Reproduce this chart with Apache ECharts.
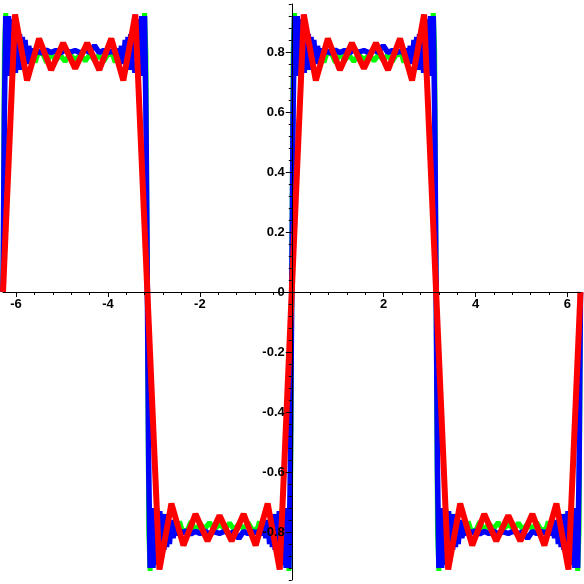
<!DOCTYPE html>
<html><head><meta charset="utf-8">
<script src="https://cdn.jsdelivr.net/npm/echarts@6.0.0/dist/echarts.min.js"></script>
<style>html,body{margin:0;padding:0;background:#fff}#c{width:584px;height:584px}</style>
</head><body><div id="c"></div>
<script>
// Half-period start positions and whether the plateau is the upper or lower one
const plateauStart = [-6.2832, -3.1416, 0, 3.1416];
const plateauSide = ['top', 'bottom', 'top', 'bottom'];

// Red curve: vertices within one half-period (offset from its start)
const redOffsets = [0, 0.2618, 0.5236, 0.7854, 1.0472, 1.309, 1.5708, 1.8326, 2.0944, 2.3562, 2.618, 2.8798, 3.1416];
const redTop = [0, 0.925, 0.705, 0.845, 0.74, 0.83, 0.745, 0.83, 0.74, 0.845, 0.705, 0.925, 0];
const redBottom = [0, -0.925, -0.705, -0.845, -0.74, -0.83, -0.745, -0.83, -0.74, -0.845, -0.705, -0.925, 0];

// Blue and green curves: denser vertices within one half-period
const fineOffsets = [0, 0.03, 0.06, 0.09, 0.12, 0.15, 0.18, 0.21, 0.24, 0.27, 0.30, 0.33, 0.36, 0.39, 0.42, 0.45, 0.48, 0.52, 0.56, 0.60, 0.65, 0.70, 0.75,
  0.85, 0.95, 1.05, 1.15, 1.25, 1.35, 1.45, 1.57, 1.69, 1.79, 1.89, 1.99, 2.09, 2.19, 2.29,
  2.39, 2.44, 2.49, 2.54, 2.58, 2.62, 2.66, 2.69, 2.72, 2.75, 2.78, 2.81, 2.84, 2.87, 2.90, 2.93, 2.96, 2.99, 3.02, 3.05, 3.08, 3.11, 3.1416];

const blueTop = [0, 0.60, 0.92, 0.74, 0.92, 0.72, 0.91, 0.73, 0.90, 0.73, 0.88, 0.74, 0.86, 0.74, 0.85, 0.75, 0.84, 0.76, 0.82, 0.78, 0.81, 0.795, 0.803,
  0.797, 0.806, 0.798, 0.805, 0.797, 0.807, 0.799, 0.805, 0.797, 0.806, 0.799, 0.822, 0.798, 0.805, 0.799,
  0.803, 0.795, 0.81, 0.78, 0.82, 0.76, 0.84, 0.75, 0.85, 0.74, 0.86, 0.74, 0.88, 0.73, 0.90, 0.73, 0.91, 0.72, 0.92, 0.74, 0.92, 0.60, 0];
const blueBottom = [0, -0.60, -0.92, -0.74, -0.92, -0.72, -0.91, -0.73, -0.90, -0.73, -0.88, -0.74, -0.86, -0.74, -0.85, -0.75, -0.84, -0.76, -0.82, -0.78, -0.81, -0.795, -0.803,
  -0.797, -0.806, -0.798, -0.805, -0.797, -0.807, -0.799, -0.805, -0.797, -0.806, -0.799, -0.822, -0.798, -0.805, -0.799,
  -0.803, -0.795, -0.81, -0.78, -0.82, -0.76, -0.84, -0.75, -0.85, -0.74, -0.86, -0.74, -0.88, -0.73, -0.90, -0.73, -0.91, -0.72, -0.92, -0.74, -0.92, -0.60, 0];

const greenTop = [0, 0.80, 0.93, 0.72, 0.92, 0.73, 0.88, 0.72, 0.85, 0.75, 0.83, 0.74, 0.82, 0.76, 0.81, 0.755, 0.80, 0.765, 0.795, 0.77, 0.80, 0.765, 0.79,
  0.80, 0.765, 0.795, 0.772, 0.79, 0.768, 0.792, 0.775, 0.79, 0.77, 0.793, 0.772, 0.79, 0.768, 0.795,
  0.79, 0.765, 0.80, 0.77, 0.795, 0.765, 0.80, 0.755, 0.81, 0.76, 0.82, 0.74, 0.83, 0.75, 0.85, 0.72, 0.88, 0.73, 0.92, 0.72, 0.93, 0.80, 0];
const greenBottom = [0, -0.80, -0.93, -0.72, -0.92, -0.73, -0.88, -0.72, -0.85, -0.75, -0.83, -0.74, -0.82, -0.76, -0.81, -0.755, -0.80, -0.765, -0.795, -0.77, -0.80, -0.765, -0.79,
  -0.80, -0.765, -0.795, -0.772, -0.79, -0.768, -0.792, -0.775, -0.79, -0.77, -0.793, -0.772, -0.79, -0.768, -0.795,
  -0.79, -0.765, -0.80, -0.77, -0.795, -0.765, -0.80, -0.755, -0.81, -0.76, -0.82, -0.74, -0.83, -0.75, -0.85, -0.72, -0.88, -0.73, -0.92, -0.72, -0.93, -0.80, 0];

// Tick values
const xMajorTicks = [-6, -4, -2, 2, 4, 6];
const xMinorTicks = [-6, -5.6, -5.2, -4.8, -4.4, -4, -3.6, -3.2, -2.8, -2.4, -2, -1.6, -1.2, -0.8, -0.4, 0, 0.4, 0.8, 1.2, 1.6, 2, 2.4, 2.8, 3.2, 3.6, 4, 4.4, 4.8, 5.2, 5.6, 6];
const yMajorTicks = [-0.8, -0.6, -0.4, -0.2, 0, 0.2, 0.4, 0.6, 0.8];
const yMinorTicks = [-0.96, -0.92, -0.88, -0.84, -0.8, -0.76, -0.72, -0.68, -0.64, -0.6, -0.56, -0.52, -0.48, -0.44, -0.4, -0.36, -0.32, -0.28, -0.24, -0.2, -0.16, -0.12, -0.08, -0.04, 0,
  0.04, 0.08, 0.12, 0.16, 0.2, 0.24, 0.28, 0.32, 0.36, 0.4, 0.44, 0.48, 0.52, 0.56, 0.6, 0.64, 0.68, 0.72, 0.76, 0.8, 0.84, 0.88, 0.92, 0.96];

const xRange = [-6.2832, 6.2832];
const yRange = [-0.96, 0.96];

function buildSeries(offsets, top, bottom) {
  const pts = [];
  plateauStart.forEach(function (s, p) {
    const ys = plateauSide[p] === 'top' ? top : bottom;
    offsets.forEach(function (o, i) {
      if (p > 0 && i === 0) return;
      pts.push([s + o, ys[i]]);
    });
  });
  return pts;
}

// Layout (pixels): plot box and the axis crossing at the origin
const W = 584, H = 584;
const gridBox = { left: 3, right: 3.5, top: 4, bottom: 4 };
const plotW = W - gridBox.left - gridBox.right;
const plotH = H - gridBox.top - gridBox.bottom;
const yAxisOffset = -plotW * (0 - xRange[0]) / (xRange[1] - xRange[0]);
const xAxisOffset = -plotH * (0 - yRange[0]) / (yRange[1] - yRange[0]);

const labelFont = { fontFamily: 'Liberation Sans', fontWeight: 'bold', fontSize: 13, color: '#000' };

const chart = echarts.init(document.getElementById('c'), null, { renderer: 'canvas' });
chart.setOption({
  animation: false,
  backgroundColor: '#ffffff',
  grid: Object.assign({ containLabel: false, outerBoundsMode: 'none' }, gridBox),
  xAxis: [
    {
      type: 'value', min: xRange[0], max: xRange[1], position: 'bottom', offset: xAxisOffset, zlevel: 1, z: 10,
      axisLine: { show: true, onZero: false, lineStyle: { color: '#000', width: 1 } },
      axisTick: { show: true, customValues: xMajorTicks, length: 5, lineStyle: { color: '#000' } },
      axisLabel: Object.assign({ show: true, customValues: xMajorTicks, margin: 6 }, labelFont),
      splitLine: { show: false }
    },
    {
      type: 'value', min: xRange[0], max: xRange[1], position: 'bottom', offset: xAxisOffset, zlevel: 1, z: 10,
      axisLine: { show: false, onZero: false },
      axisTick: { show: true, customValues: xMinorTicks, length: 3, lineStyle: { color: '#000' } },
      axisLabel: { show: false },
      splitLine: { show: false }
    }
  ],
  yAxis: [
    {
      type: 'value', min: yRange[0], max: yRange[1], position: 'left', offset: yAxisOffset, zlevel: 1, z: 10,
      axisLine: { show: true, onZero: false, lineStyle: { color: '#000', width: 1 } },
      axisTick: { show: true, customValues: yMajorTicks, length: 6, lineStyle: { color: '#000' } },
      axisLabel: Object.assign({ show: true, customValues: yMajorTicks, margin: 7 }, labelFont),
      splitLine: { show: false }
    },
    {
      type: 'value', min: yRange[0], max: yRange[1], position: 'left', offset: yAxisOffset, zlevel: 1, z: 10,
      axisLine: { show: false, onZero: false },
      axisTick: { show: true, customValues: yMinorTicks, length: 3, lineStyle: { color: '#000' } },
      axisLabel: { show: false },
      splitLine: { show: false }
    }
  ],
  series: [
    {
      name: 'green', type: 'line', xAxisIndex: 0, yAxisIndex: 0,
      data: buildSeries(fineOffsets, greenTop, greenBottom),
      symbol: 'none', showSymbol: false, clip: false, silent: true,
      lineStyle: { color: '#00ff00', width: 5 }
    },
    {
      name: 'blue', type: 'line', xAxisIndex: 0, yAxisIndex: 0,
      data: buildSeries(fineOffsets, blueTop, blueBottom),
      symbol: 'none', showSymbol: false, clip: false, silent: true,
      lineStyle: { color: '#0000ff', width: 5.5 }
    },
    {
      name: 'red', type: 'line', xAxisIndex: 0, yAxisIndex: 0,
      data: buildSeries(redOffsets, redTop, redBottom),
      symbol: 'none', showSymbol: false, clip: false, silent: true,
      lineStyle: { color: '#ff0000', width: 6 }
    }
  ]
});
</script>
</body></html>
